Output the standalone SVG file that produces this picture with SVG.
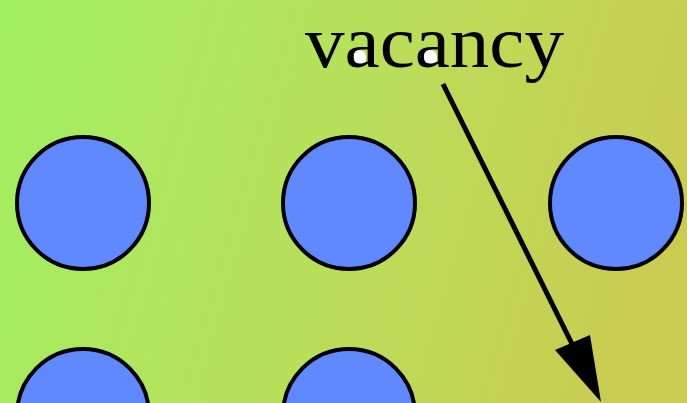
<svg xmlns="http://www.w3.org/2000/svg" width="687" height="403" viewBox="0 0 687 403">
<defs>
<linearGradient id="bg" x1="0" y1="0" x2="687" y2="200" gradientUnits="userSpaceOnUse">
<stop offset="0" stop-color="#a0f062"/>
<stop offset="0.5" stop-color="#b8e05a"/>
<stop offset="1" stop-color="#cacc50"/>
</linearGradient>
<style>
.atom{fill:#6088ff;stroke:#000;stroke-width:4}
.lbl{font-family:"Liberation Serif","Times New Roman",serif;font-size:74px;fill:#000}
</style>
</defs>
<rect width="687" height="403" fill="url(#bg)"/>
<g id="atom-r1c1"><circle class="atom" cx="83" cy="203" r="66"/></g>
<g id="atom-r1c2"><circle class="atom" cx="349" cy="203" r="66"/></g>
<g id="atom-r1c3"><circle class="atom" cx="616" cy="203" r="66"/></g>
<g id="atom-r2c1"><circle class="atom" cx="83" cy="415" r="66"/></g>
<g id="atom-r2c2"><circle class="atom" cx="349" cy="415" r="66"/></g>
<g id="label-vacancy">
<ellipse cx="359" cy="58" rx="7" ry="8" fill="#fff"/>
<ellipse cx="430" cy="58" rx="7" ry="8" fill="#fff"/>
<text class="lbl" x="305" y="67" textLength="259" lengthAdjust="spacingAndGlyphs">vacancy</text>
</g>
<g id="connectors">
<line x1="443" y1="84" x2="578" y2="356" stroke="#000" stroke-width="5"/>
<path d="M601,402 L555,350 L590,335 Z" fill="#000"/>
</g>
</svg>
